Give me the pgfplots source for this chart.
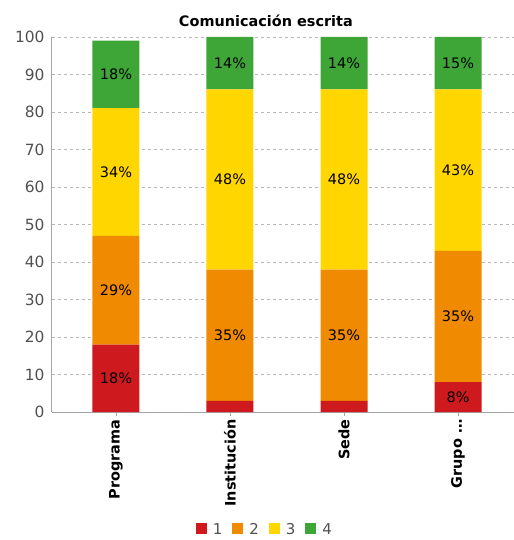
\documentclass[border=0pt]{standalone}
\usepackage{fontspec}
\setmainfont{DejaVu Sans}
\usepackage{pgfplots}
\pgfplotsset{compat=1.18}
\definecolor{c1}{RGB}{206,26,30}
\definecolor{c2}{RGB}{240,138,0}
\definecolor{c3}{RGB}{255,214,0}
\definecolor{c4}{RGB}{62,166,54}
\definecolor{axgray}{RGB}{165,165,165}
\definecolor{txtgray}{RGB}{80,80,80}
\pgfplotsset{
  base/.style={
    scale only axis, width=462bp, height=375bp,
    xmin=-0.561, xmax=3.491, ymin=0, ymax=100,
  }
}
\begin{document}
\begin{tikzpicture}
\begin{axis}[base,
  ybar stacked, bar width=47bp,
  axis lines*=left, axis line style={axgray, line width=1bp, -},
  xtick={0,1,2,3},
  xticklabels={Programa,Institución,Sede,{Grupo …}},
  xticklabel style={rotate=90, anchor=east, font=\fontsize{14.5}{16}\selectfont\bfseries, text=black},
  ytick={0,10,20,30,40,50,60,70,80,90,100},
  yticklabel style={font=\fontsize{15.5}{17}\selectfont, text=txtgray},
  /pgf/number format/assume math mode=true,
  tick align=outside, major tick length=4bp,
  xtick style={axgray}, ytick style={draw=none},
  ymajorgrids, grid style={axgray!80, dashed, line width=0.6bp},
  title={Comunicación escrita},
  title style={at={(0.463,1)}, anchor=south, yshift=1bp, font=\fontsize{14.5}{16}\selectfont\bfseries},
  legend style={at={(0.461,-0.313)}, anchor=center, draw=none, fill=none,
    legend columns=4, font=\fontsize{15}{17}\selectfont, text=txtgray, inner sep=1bp,
    /tikz/every even column/.append style={column sep=8bp}},
  legend image code/.code={\fill[#1, draw=none] (0bp,-4.5bp) rectangle (11bp,6.5bp);
    \path (0bp,0bp) -- (15bp,0bp);},
]
\addplot[fill=c1, draw=none] coordinates {(0,18) (1,3) (2,3) (3,8)};
\addlegendentry{1}
\addplot[fill=c2, draw=none] coordinates {(0,29) (1,35) (2,35) (3,35)};
\addlegendentry{2}
\addplot[fill=c3, draw=none] coordinates {(0,34) (1,48) (2,48) (3,43)};
\addlegendentry{3}
\addplot[fill=c4, draw=none] coordinates {(0,18) (1,14) (2,14) (3,14)};
\addlegendentry{4}
\coordinate (sw) at (rel axis cs:0,0);
\coordinate (ne) at (rel axis cs:1,1);
\end{axis}
\begin{axis}[base, hide axis,
  nodes near coords, point meta=explicit symbolic,
  nodes near coords style={anchor=center, font=\fontsize{14.5}{16}\selectfont, text=black}]
\addplot[only marks, mark=o, mark options={draw opacity=0}] coordinates {
(0,9)[18\%] (0,32.5)[29\%] (0,64)[34\%] (0,90)[18\%]
(1,20.5)[35\%] (1,62)[48\%] (1,93)[14\%]
(2,20.5)[35\%] (2,62)[48\%] (2,93)[14\%]
(3,4)[8\%] (3,25.5)[35\%] (3,64.5)[43\%] (3,93)[15\%]
};
\end{axis}
\pgfresetboundingbox
\path ([xshift=-52bp,yshift=-128bp]sw) rectangle ([yshift=37bp]ne);
\end{tikzpicture}
\end{document}
